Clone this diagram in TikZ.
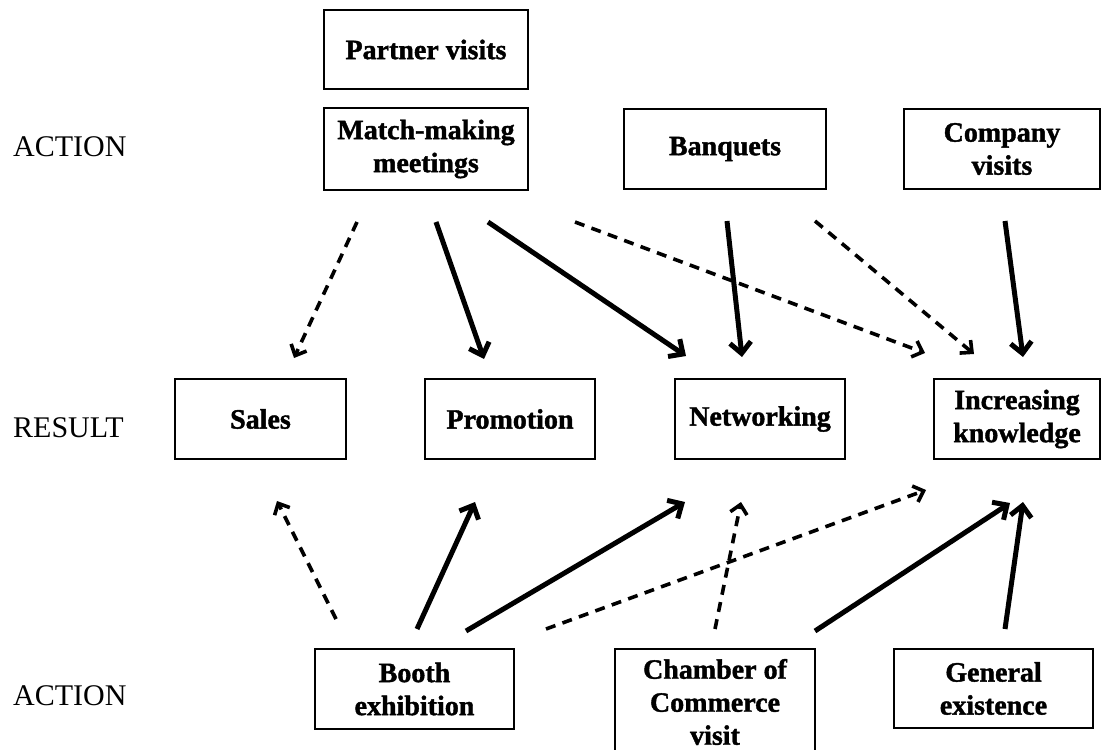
\documentclass[tikz,border=0pt]{standalone}
\usepackage{fontspec}
\setmainfont{Liberation Serif}
\newfontfamily\boxfont{Liberation Serif}[BoldFeatures={FakeBold=1.4}]
\usetikzlibrary{arrows.meta}
\begin{document}
\begin{tikzpicture}[x=1pt,y=-1pt,
  box/.style={draw, line width=1.8pt, align=center, inner sep=0pt,
    font=\fontsize{28}{33}\boxfont\bfseries},
  sz/.style 2 args={minimum width=#1pt, minimum height=#2pt},
  rowlabel/.style={anchor=base west, inner sep=0pt, font=\fontsize{30}{36}\selectfont},
  solidarrow/.style={line width=5pt, -{Straight Barb[length=11pt,width=21pt]}},
  dasharrow/.style={line width=3.6pt, dash pattern=on 10pt off 7.5pt,
    -{Straight Barb[length=9pt,width=17pt]}}]
\clip (0,0) rectangle (1102,749);

% row labels
\node[rowlabel] (lab-top) at (13,157) {ACTION};
\node[rowlabel] (lab-mid) at (13,437) {RESULT};
\node[rowlabel] (lab-bot) at (13,705) {ACTION};

% upper actions
\node[box, sz={204}{79}] (pv) at (426,49.5) {Partner visits};
\node[box, sz={204}{82}] (mm) at (426,149) {Match-making\\meetings};
\node[box, sz={202}{80}] (bq) at (725,149) {Banquets};
\node[box, sz={196}{80}] (cv) at (1002,149) {Company\\visits};

% results
\node[box, sz={171}{80}] (sales) at (260.5,419) {Sales};
\node[box, sz={170}{80}] (promo) at (510,419) {Promotion};
\node[box, sz={170}{80}] (net) at (760,419) {Networking};
\node[box, sz={166}{80}] (know) at (1017,419) {Increasing\\knowledge};

% lower actions
\node[box, sz={199}{80}] (booth) at (414.5,689) {Booth\\exhibition};
\node[box, sz={200}{106}] (cham) at (715,702) {Chamber of\\Commerce\\visit};
\node[box, sz={199}{79}] (gen) at (993.5,688.5) {General\\existence};

% connector end points (arrows stand free of the boxes)
\coordinate (mm-a) at (357,222);  \coordinate (sales-a) at (294,358);
\coordinate (mm-b) at (436,222);  \coordinate (promo-a) at (484,359);
\coordinate (mm-c) at (488,222);  \coordinate (net-a) at (686,356);
\coordinate (mm-d) at (575,222);  \coordinate (know-a) at (925,353);
\coordinate (bq-a) at (727,221);  \coordinate (net-b) at (742,357);
\coordinate (bq-b) at (815,221);  \coordinate (know-b) at (974,354);
\coordinate (cv-a) at (1005,221); \coordinate (know-c) at (1023,357);

\coordinate (booth-a) at (336,619); \coordinate (sales-b) at (277,501);
\coordinate (booth-b) at (417,629); \coordinate (promo-b) at (475,502);
\coordinate (booth-c) at (466,631); \coordinate (net-c) at (685,502);
\coordinate (booth-d) at (546,629); \coordinate (know-d) at (926,490);
\coordinate (cham-a) at (715,629);  \coordinate (net-d) at (741,502);
\coordinate (cham-b) at (815,631);  \coordinate (know-e) at (1010,503);
\coordinate (gen-a) at (1005,629);  \coordinate (know-f) at (1023,502);

% connectors from the upper actions
\draw[dasharrow]  (mm-a) -- (sales-a);
\draw[solidarrow] (mm-b) -- (promo-a);
\draw[solidarrow] (mm-c) -- (net-a);
\draw[dasharrow]  (mm-d) -- (know-a);
\draw[solidarrow] (bq-a) -- (net-b);
\draw[dasharrow]  (bq-b) -- (know-b);
\draw[solidarrow] (cv-a) -- (know-c);

% connectors from the lower actions
\draw[dasharrow]  (booth-a) -- (sales-b);
\draw[solidarrow] (booth-b) -- (promo-b);
\draw[solidarrow] (booth-c) -- (net-c);
\draw[dasharrow]  (booth-d) -- (know-d);
\draw[dasharrow]  (cham-a) -- (net-d);
\draw[solidarrow] (cham-b) -- (know-e);
\draw[solidarrow] (gen-a) -- (know-f);
\end{tikzpicture}
\end{document}
